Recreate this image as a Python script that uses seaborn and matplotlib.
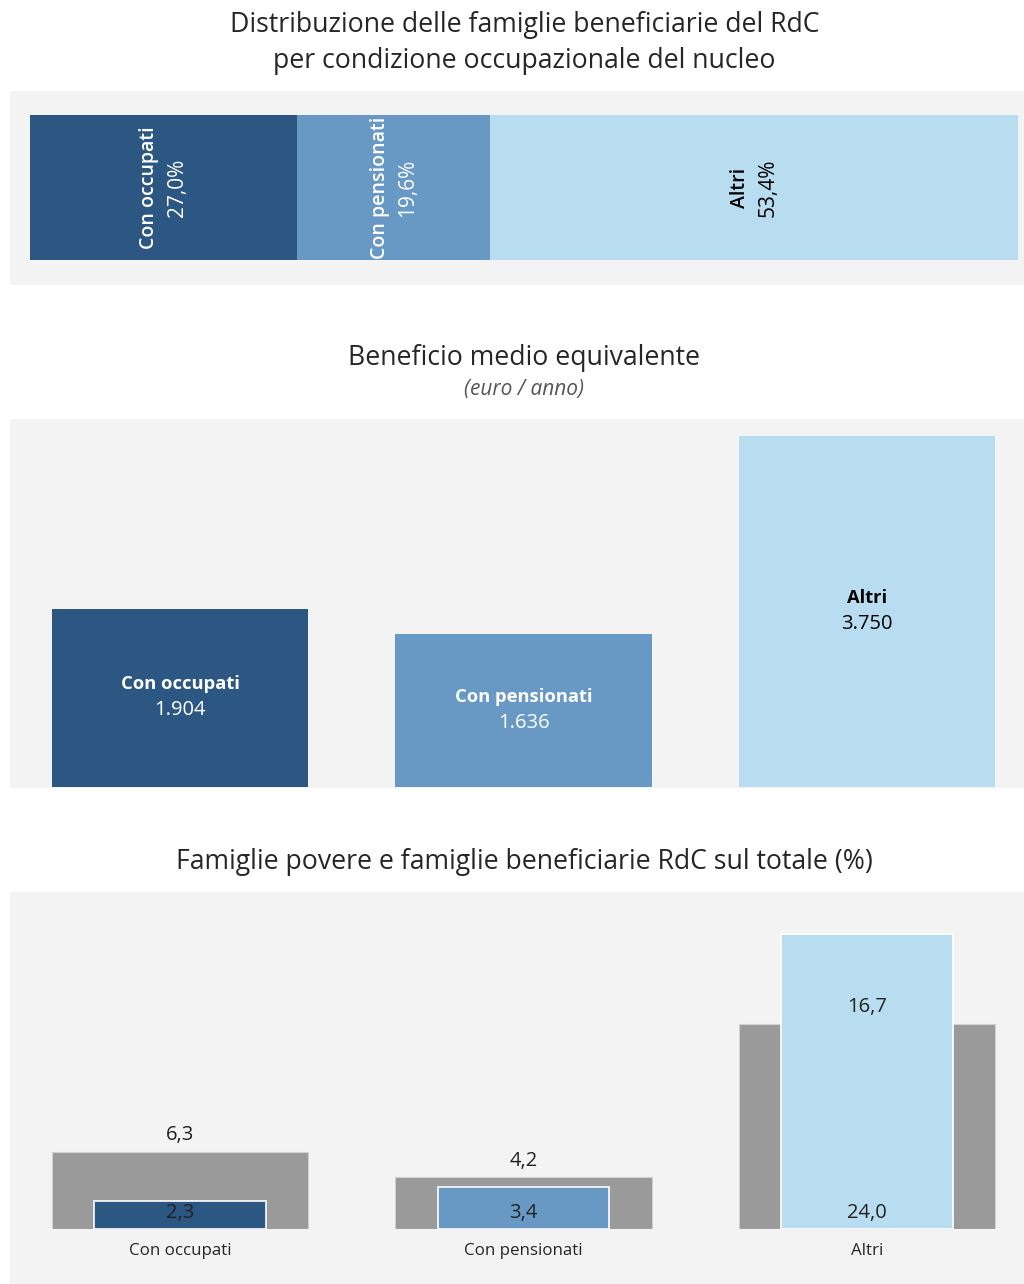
import matplotlib
matplotlib.use("Agg")
import matplotlib.pyplot as plt
from matplotlib.patches import Rectangle
import seaborn as sns
import pandas as pd

# ---- data ----
categories = ["Con occupati", "Con pensionati", "Altri"]
quota_famiglie = [27.0, 19.6, 53.4]          # % distribution of RdC families
beneficio_medio = [1904, 1636, 3750]          # euro / anno
famiglie_povere = [6.3, 4.2, 16.7]            # % poor families (gray)
famiglie_rdc = [2.3, 3.4, 24.0]               # % RdC beneficiary families (coloured)
label_quota = ["27,0%", "19,6%", "53,4%"]
label_beneficio = ["1.904", "1.636", "3.750"]
label_povere = ["6,3", "4,2", "16,7"]
label_rdc = ["2,3", "3,4", "24,0"]

colors = ["#2b5782", "#6899c4", "#b9ddf0"]
text_on = ["white", "white", "black"]
gray = "#9a9a9a"
bg = "#f3f3f3"
dark = "#262626"

sns.set_theme(style="white")
plt.rcParams["font.family"] = ["Open Sans", "DejaVu Sans"]

W, H = 1024, 1284
fig = plt.figure(figsize=(W / 100, H / 100), dpi=100)
fig.patch.set_facecolor("white")


def rect(x0, y0, x1, y1):
    return [x0 / W, 1 - y1 / H, (x1 - x0) / W, (y1 - y0) / H]


# panel backgrounds
for (x0, y0, x1, y1) in [(10, 91, 1024, 285), (10, 419, 1024, 788), (10, 892, 1024, 1284)]:
    fig.add_artist(Rectangle((x0 / W, 1 - y1 / H), (x1 - x0) / W, (y1 - y0) / H,
                             transform=fig.transFigure, facecolor=bg, edgecolor="none",
                             zorder=-10))

# titles
TFS = 19.2
XC = 524.5 / W
fig.text(XC, 1 - 25 / H, "Distribuzione delle famiglie beneficiarie del RdC",
         ha="center", va="center", fontsize=TFS, color=dark)
fig.text(XC, 1 - 61 / H, "per condizione occupazionale del nucleo",
         ha="center", va="center", fontsize=TFS, color=dark)
fig.text(XC, 1 - 358 / H, "Beneficio medio equivalente",
         ha="center", va="center", fontsize=TFS, color=dark)
fig.text(XC, 1 - 390 / H, "(euro / anno)",
         ha="center", va="center", fontsize=15, color="#555555", style="italic")
fig.text(XC, 1 - 862 / H, "Famiglie povere e famiglie beneficiarie RdC sul totale (%)",
         ha="center", va="center", fontsize=TFS, color=dark)

# ---- panel 1: stacked horizontal bar ----
ax1 = fig.add_axes(rect(30, 115, 1018, 260))
ax1.set_facecolor("none")
left = 0.0
for i, (v, c) in enumerate(zip(quota_famiglie, colors)):
    ax1.barh([0], [v], left=left, height=1.0, color=c, edgecolor="none")
    mid = left + v / 2
    tc = text_on[i]
    ax1.annotate(categories[i], (mid, 0), xytext=(-10, 0), textcoords="offset points",
                 rotation=90, ha="center", va="center", fontsize=14, color=tc,
                 fontweight="semibold")
    ax1.annotate(label_quota[i], (mid, 0), xytext=(10, 0), textcoords="offset points",
                 rotation=90, ha="center", va="center", fontsize=15, color=tc)
    left += v
ax1.set_xlim(0, sum(quota_famiglie))
ax1.set_ylim(-0.5, 0.5)
ax1.axis("off")

# ---- panel 2: mean benefit ----
ax2 = fig.add_axes(rect(10, 419, 1024, 787))
ax2.set_facecolor("none")
df2 = pd.DataFrame({"cat": categories, "val": beneficio_medio})
sns.barplot(data=df2, x="cat", y="val", hue="cat", palette=colors, width=0.748,
            legend=False, ax=ax2, saturation=1, edgecolor="none")
ax2.set_xlim(-0.495, 2.457)
ax2.set_ylim(0, 3932)
for i, v in enumerate(beneficio_medio):
    ax2.annotate(categories[i], (i, v / 2), xytext=(0, 10), textcoords="offset points",
                 ha="center", va="center", fontsize=13.2, color=text_on[i], fontweight="bold")
    ax2.annotate(label_beneficio[i], (i, v / 2), xytext=(0, -9), textcoords="offset points",
                 ha="center", va="center", fontsize=14.5, color=text_on[i])
ax2.axis("off")

# ---- panel 3: poor vs RdC families ----
ax3 = fig.add_axes(rect(10, 892, 1024, 1229))
ax3.set_facecolor("none")
df3 = pd.DataFrame({"cat": categories, "povere": famiglie_povere, "rdc": famiglie_rdc})
sns.barplot(data=df3, x="cat", y="povere", color=gray, width=0.748, ax=ax3,
            saturation=1, edgecolor="#d0d0d0", linewidth=0.8)
sns.barplot(data=df3, x="cat", y="rdc", hue="cat", palette=colors, width=0.5,
            legend=False, ax=ax3, saturation=1, edgecolor="white", linewidth=1.2)
ax3.set_xlim(-0.495, 2.457)
ax3.set_ylim(0, 27.4)
for i in range(len(categories)):
    ax3.annotate(label_povere[i], (i, famiglie_povere[i]), xytext=(0, 12),
                 textcoords="offset points", ha="center", va="center",
                 fontsize=14.5, color="#222222")
    ax3.annotate(label_rdc[i], (i, 0), xytext=(0, 11.5),
                 textcoords="offset points", ha="center", va="center",
                 fontsize=14.5, color="#222222")
for s in ax3.spines.values():
    s.set_visible(False)
ax3.set_yticks([])
ax3.set_xlabel("")
ax3.set_ylabel("")
ax3.tick_params(axis="x", length=0, pad=10, labelsize=12.2, labelcolor=dark)

fig.savefig("out.png", dpi=100, facecolor="white")
